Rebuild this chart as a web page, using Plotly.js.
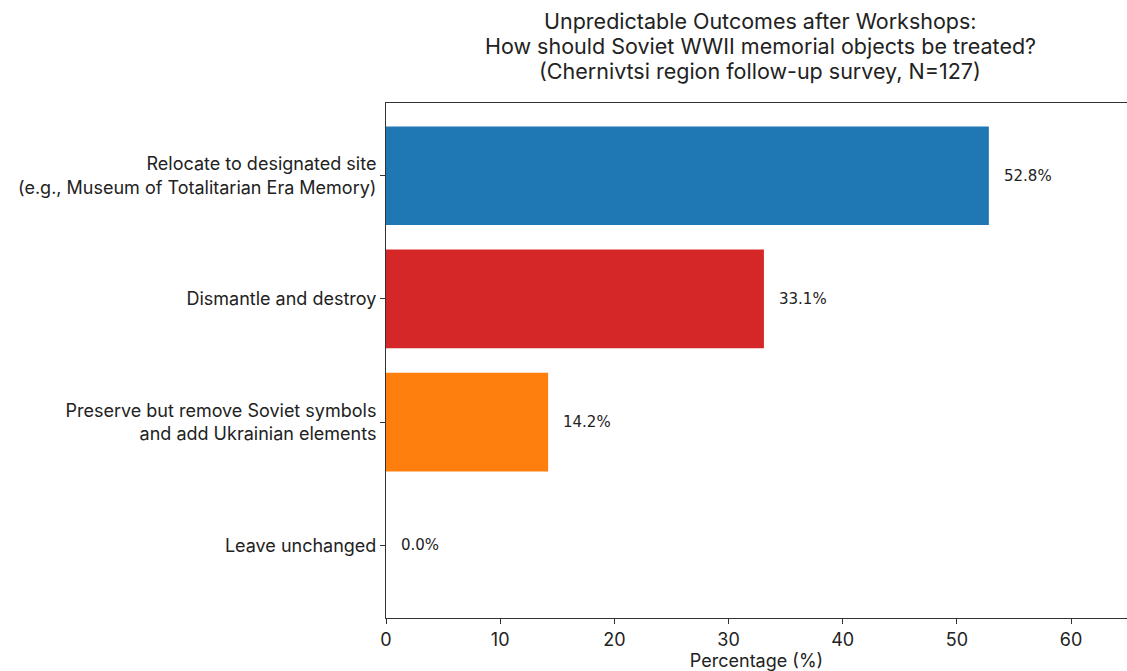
<!DOCTYPE html>
<html>
<head>
<meta charset="utf-8">
<script src="https://cdn.plot.ly/plotly-3.0.1.min.js"></script>
<style>html,body{margin:0;padding:0;background:#fff;}#chart{width:1127px;height:671px;}</style>
</head>
<body>
<div id="chart"></div>
<script>
const categories = [
  "Relocate to designated site<br>(e.g., Museum of Totalitarian Era Memory)",
  "Dismantle and destroy",
  "Preserve but remove Soviet symbols<br>and add Ukrainian elements",
  "Leave unchanged"
];
const percentages = [52.8, 33.1, 14.2, 0.0];
const barColors = ["#1f77b4", "#d62728", "#ff7f0e", "#7f7f7f"];
const xTicks = [0, 10, 20, 30, 40, 50, 60];
const titleLines = [
  "Unpredictable Outcomes after Workshops:",
  "How should Soviet WWII memorial objects be treated?",
  "(Chernivtsi region follow-up survey, N=127)"
];

const mainFont = "Inter, 'Open Sans', sans-serif";
const plotTop = 103, plotBottom = 618;

const trace = {
  type: "bar",
  orientation: "h",
  y: categories,
  x: percentages,
  width: 0.8,
  marker: {color: barColors, line: {width: 0}},
  hoverinfo: "skip"
};

const annotations = percentages.map((v, i) => ({
  x: v, y: categories[i], xref: "x", yref: "y",
  text: v.toFixed(1) + "%",
  showarrow: false, xanchor: "left", yanchor: "middle", xshift: 13,
  font: {family: "'DejaVu Sans', sans-serif", size: 15, color: "#222"}
}));

const titleCenters = [21.5, 46, 70.5];
titleLines.forEach((line, i) => {
  annotations.push({
    xref: "paper", yref: "paper",
    x: (760 - 386) / 741, y: (plotBottom - titleCenters[i]) / (plotBottom - plotTop),
    xanchor: "center", yanchor: "middle",
    text: line, showarrow: false,
    font: {family: mainFont, size: 21.5, color: "#222"}
  });
});

const layout = {
  width: 1127, height: 671,
  margin: {l: 386, r: 0, t: plotTop, b: 671 - plotBottom},
  paper_bgcolor: "#fff", plot_bgcolor: "#fff",
  font: {family: mainFont, color: "#222"},
  xaxis: {
    range: [0, 64.9], tickvals: xTicks, ticktext: xTicks.map(String),
    showgrid: false, zeroline: false,
    showline: true, mirror: true, linecolor: "#333", linewidth: 1,
    ticks: "outside", ticklen: 5, tickcolor: "#333",
    tickfont: {family: mainFont, size: 18, color: "#222"},
    title: {text: "Percentage (%)", font: {family: mainFont, size: 18, color: "#222"}, standoff: 3}
  },
  yaxis: {
    type: "category", range: [3.59, -0.59],
    showgrid: false, zeroline: false,
    showline: true, mirror: false, linecolor: "#333", linewidth: 1,
    ticks: "outside", ticklen: 5, tickcolor: "#333",
    tickfont: {family: mainFont, size: 18, color: "#222"}
  },
  annotations: annotations,
  showlegend: false,
  bargap: 0.2
};

Plotly.newPlot("chart", [trace], layout, {displayModeBar: false, staticPlot: true});
</script>
</body>
</html>
